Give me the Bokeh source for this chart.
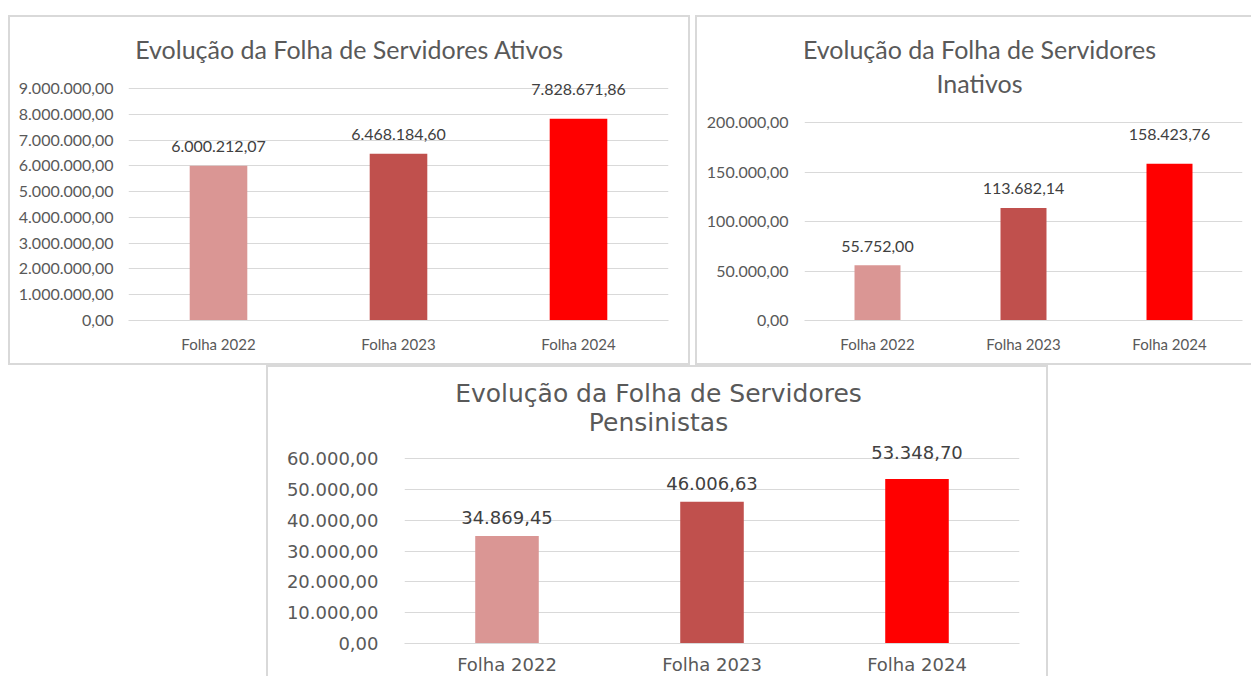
from bokeh.plotting import figure
from bokeh.models import (Range1d, FixedTicker, CustomJSTickFormatter, ColumnDataSource,
                          LabelSet, Label, Spacer)
from bokeh.layouts import column, row
from bokeh.core.properties import value
from bokeh.embed import file_html
from bokeh.resources import INLINE

# ---------------- data ----------------
categories = ["Folha 2022", "Folha 2023", "Folha 2024"]
ativos = [6000212.07, 6468184.60, 7828671.86]
inativos = [55752.00, 113682.14, 158423.76]
pensionistas = [34869.45, 46006.63, 53348.70]
bar_colors = ["#DA9694", "#C0504D", "#FF0000"]

ativos_ticks = [0, 1000000, 2000000, 3000000, 4000000, 5000000, 6000000, 7000000, 8000000, 9000000]
inativos_ticks = [0, 50000, 100000, 150000, 200000]
pens_ticks = [0, 10000, 20000, 30000, 40000, 50000, 60000]

title_ativos = ["Evolução da Folha de Servidores Ativos"]
title_inativos = ["Evolução da Folha de Servidores", "Inativos"]
title_pens = ["Evolução da Folha de Servidores", "Pensinistas"]


def fmt_br(v):
    s = f"{v:,.2f}"
    return s.replace(",", "X").replace(".", ",").replace("X", ".")


TICK_JS = """
const s = tick.toFixed(2);
let parts = s.split('.');
let ip = parts[0].replace(/\\B(?=(\\d{3})+(?!\\d))/g, '.');
return ip + ',' + parts[1];
"""

GRID = "#D9D9D9"
BORDER = "#D9D9D9"


def make_panel(values, ticks, titles, *, width, left, frame_w, top, zero_px, top_tick_px, height,
               font, title_size, tick_size, cat_size, data_size, bar_w,
               ystand, xstand, title_dx, title_dy, title_gap, label_gap, top_extra):
    # frame runs from `top` down to the zero line; the top tick sits top_tick_px above zero
    frame_h = zero_px - top
    y_end = ticks[-1] * frame_h / (zero_px - top_tick_px)
    right = width - left - frame_w
    bottom = height - zero_px
    p = figure(x_range=categories, y_range=Range1d(0, y_end),
               frame_width=frame_w, frame_height=frame_h,
               output_backend="svg", toolbar_location=None,
               min_border_left=left, min_border_right=right,
               min_border_top=top, min_border_bottom=bottom)
    p.title.visible = False
    p.background_fill_color = "white"
    p.border_fill_color = "white"
    p.outline_line_color = None

    vmax = max(values)
    src = ColumnDataSource(dict(x=categories, top=values, color=bar_colors,
                                label=[fmt_br(v) for v in values],
                                dy=[label_gap + (top_extra if v == vmax else 0) for v in values]))
    p.vbar(x="x", top="top", width=bar_w, color="color", source=src, line_color=None)

    p.add_layout(LabelSet(x="x", y="top", text="label", source=src,
                          text_align="center", text_baseline="middle",
                          y_offset="dy", text_font=value(font),
                          text_font_size=value(f"{data_size}px"), text_color="#404040"))

    # axes
    p.yaxis.ticker = FixedTicker(ticks=ticks)
    p.yaxis.formatter = CustomJSTickFormatter(code=TICK_JS)
    p.yaxis.axis_line_color = None
    p.yaxis.major_tick_line_color = None
    p.yaxis.minor_tick_line_color = None
    p.yaxis.major_tick_out = 0
    p.yaxis.major_tick_in = 0
    p.yaxis.major_label_standoff = ystand
    p.yaxis.major_label_text_font = font
    p.yaxis.major_label_text_font_size = f"{tick_size}px"
    p.yaxis.major_label_text_color = "#595959"

    p.xaxis.axis_line_color = GRID
    p.xaxis.major_tick_line_color = None
    p.xaxis.major_tick_out = 0
    p.xaxis.major_tick_in = 0
    p.xaxis.major_label_standoff = xstand
    p.xaxis.major_label_text_font = font
    p.xaxis.major_label_text_font_size = f"{cat_size}px"
    p.xaxis.major_label_text_color = "#595959"

    p.xgrid.grid_line_color = None
    p.ygrid.grid_line_color = GRID
    p.ygrid.grid_line_width = 1
    p.ygrid.ticker = FixedTicker(ticks=ticks)

    # titles (inside the extended frame)
    for i, t in enumerate(titles):
        p.add_layout(Label(x=1.5, y=y_end, text=t, x_offset=title_dx,
                           y_offset=-(title_dy + i * title_gap),
                           text_align="center", text_baseline="middle",
                           text_font=font, text_font_size=f"{title_size}px",
                           text_color="#595959"))
    return p


def line(w, h):
    return Spacer(width=w, height=h, styles={"background-color": BORDER})


def blank(w, h):
    return Spacer(width=w, height=h)


# panel 1: box x 8..690, y 15..365 ; figure occupies x 10..688, y 17..363
p1 = make_panel(ativos, ativos_ticks, title_ativos,
                width=678, left=118, frame_w=540, height=346,
                top=3, zero_px=303, top_tick_px=303 - 232,
                font="Lato", title_size=25, tick_size=16, cat_size=15, data_size=16,
                bar_w=0.32, ystand=15, xstand=14, title_dx=-49, title_dy=28,
                title_gap=34, label_gap=19, top_extra=10)

# panel 2: box x 695..1251, y 15..365 ; figure occupies x 697..1251, y 17..363
p2 = make_panel(inativos, inativos_ticks, title_inativos,
                width=554, left=107, frame_w=438, height=346,
                top=3, zero_px=303, top_tick_px=303 - 198,
                font="Lato", title_size=25, tick_size=16, cat_size=15, data_size=16,
                bar_w=0.315, ystand=16, xstand=14, title_dx=-44, title_dy=28,
                title_gap=34, label_gap=19, top_extra=10)

# panel 3: box x 266..1048, y 365..677 ; figure occupies x 268..1046, y 367..676
p3 = make_panel(pensionistas, pens_ticks, title_pens,
                width=778, left=136, frame_w=615, height=309,
                top=3, zero_px=276, top_tick_px=276 - 185,
                font="DejaVu Sans", title_size=25, tick_size=18, cat_size=18, data_size=18,
                bar_w=0.31, ystand=26, xstand=10, title_dx=-53.5, title_dy=23,
                title_gap=29, label_gap=18, top_extra=9)

panel1 = column(blank(682, 15), line(682, 2),
                row(line(2, 346), p1, line(2, 346)),
                line(682, 2))
panel2 = column(blank(556, 15), line(556, 2),
                row(line(2, 346), p2),
                line(556, 2))
panel3 = column(line(782, 2),
                row(line(2, 309), p3, line(2, 309)))

layout = column(row(blank(8, 365), panel1, blank(5, 365), panel2),
                row(blank(266, 311), panel3))

open("out.html", "w").write(file_html(layout, INLINE))
